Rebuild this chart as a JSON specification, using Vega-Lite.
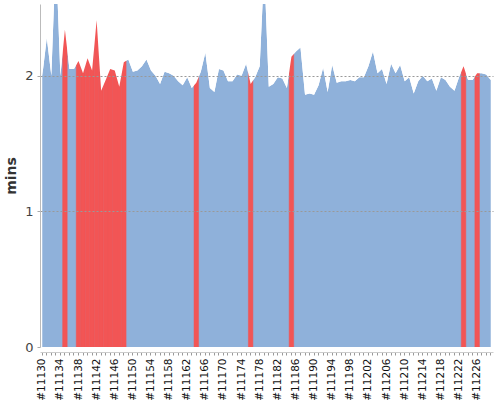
{
  "$schema": "https://vega.github.io/schema/vega-lite/v6.json",
  "description": "Build time trend, minutes per build",
  "autosize": {"type": "none"},
  "padding": {"left": 40, "top": 4, "right": 7, "bottom": 53},
  "width": 453,
  "height": 343,
  "background": "white",
  "config": {
    "view": {"stroke": null},
    "font": "DejaVu Sans"
  },
  "data": {
    "values": [
      {"build": 11130, "mins": 2.00, "result": "SUCCESS"},
      {"build": 11131, "mins": 2.28, "result": "SUCCESS"},
      {"build": 11132, "mins": 2.00, "result": "SUCCESS"},
      {"build": 11133, "mins": 2.90, "result": "SUCCESS"},
      {"build": 11134, "mins": 2.00, "result": "SUCCESS"},
      {"build": 11135, "mins": 2.34, "result": "FAILURE"},
      {"build": 11136, "mins": 2.05, "result": "SUCCESS"},
      {"build": 11137, "mins": 2.05, "result": "SUCCESS"},
      {"build": 11138, "mins": 2.11, "result": "FAILURE"},
      {"build": 11139, "mins": 2.02, "result": "FAILURE"},
      {"build": 11140, "mins": 2.13, "result": "FAILURE"},
      {"build": 11141, "mins": 2.04, "result": "FAILURE"},
      {"build": 11142, "mins": 2.41, "result": "FAILURE"},
      {"build": 11143, "mins": 1.89, "result": "FAILURE"},
      {"build": 11144, "mins": 1.97, "result": "FAILURE"},
      {"build": 11145, "mins": 2.05, "result": "FAILURE"},
      {"build": 11146, "mins": 2.04, "result": "FAILURE"},
      {"build": 11147, "mins": 1.92, "result": "FAILURE"},
      {"build": 11148, "mins": 2.10, "result": "FAILURE"},
      {"build": 11149, "mins": 2.12, "result": "SUCCESS"},
      {"build": 11150, "mins": 2.03, "result": "SUCCESS"},
      {"build": 11151, "mins": 2.04, "result": "SUCCESS"},
      {"build": 11152, "mins": 2.07, "result": "SUCCESS"},
      {"build": 11153, "mins": 2.12, "result": "SUCCESS"},
      {"build": 11154, "mins": 2.04, "result": "SUCCESS"},
      {"build": 11155, "mins": 2.00, "result": "SUCCESS"},
      {"build": 11156, "mins": 1.94, "result": "SUCCESS"},
      {"build": 11157, "mins": 2.03, "result": "SUCCESS"},
      {"build": 11158, "mins": 2.02, "result": "SUCCESS"},
      {"build": 11159, "mins": 2.00, "result": "SUCCESS"},
      {"build": 11160, "mins": 1.96, "result": "SUCCESS"},
      {"build": 11161, "mins": 1.93, "result": "SUCCESS"},
      {"build": 11162, "mins": 1.99, "result": "SUCCESS"},
      {"build": 11163, "mins": 1.91, "result": "SUCCESS"},
      {"build": 11164, "mins": 1.95, "result": "FAILURE"},
      {"build": 11165, "mins": 2.03, "result": "SUCCESS"},
      {"build": 11166, "mins": 2.17, "result": "SUCCESS"},
      {"build": 11167, "mins": 1.91, "result": "SUCCESS"},
      {"build": 11168, "mins": 1.88, "result": "SUCCESS"},
      {"build": 11169, "mins": 2.05, "result": "SUCCESS"},
      {"build": 11170, "mins": 2.04, "result": "SUCCESS"},
      {"build": 11171, "mins": 1.96, "result": "SUCCESS"},
      {"build": 11172, "mins": 1.96, "result": "SUCCESS"},
      {"build": 11173, "mins": 2.01, "result": "SUCCESS"},
      {"build": 11174, "mins": 2.00, "result": "SUCCESS"},
      {"build": 11175, "mins": 2.09, "result": "SUCCESS"},
      {"build": 11176, "mins": 1.94, "result": "FAILURE"},
      {"build": 11177, "mins": 1.99, "result": "SUCCESS"},
      {"build": 11178, "mins": 2.07, "result": "SUCCESS"},
      {"build": 11179, "mins": 2.80, "result": "SUCCESS"},
      {"build": 11180, "mins": 1.92, "result": "SUCCESS"},
      {"build": 11181, "mins": 1.94, "result": "SUCCESS"},
      {"build": 11182, "mins": 1.99, "result": "SUCCESS"},
      {"build": 11183, "mins": 1.98, "result": "SUCCESS"},
      {"build": 11184, "mins": 1.91, "result": "SUCCESS"},
      {"build": 11185, "mins": 2.14, "result": "FAILURE"},
      {"build": 11186, "mins": 2.18, "result": "SUCCESS"},
      {"build": 11187, "mins": 2.21, "result": "SUCCESS"},
      {"build": 11188, "mins": 1.86, "result": "SUCCESS"},
      {"build": 11189, "mins": 1.87, "result": "SUCCESS"},
      {"build": 11190, "mins": 1.86, "result": "SUCCESS"},
      {"build": 11191, "mins": 1.93, "result": "SUCCESS"},
      {"build": 11192, "mins": 2.06, "result": "SUCCESS"},
      {"build": 11193, "mins": 1.88, "result": "SUCCESS"},
      {"build": 11194, "mins": 2.08, "result": "SUCCESS"},
      {"build": 11195, "mins": 1.95, "result": "SUCCESS"},
      {"build": 11196, "mins": 1.96, "result": "SUCCESS"},
      {"build": 11197, "mins": 1.96, "result": "SUCCESS"},
      {"build": 11198, "mins": 1.97, "result": "SUCCESS"},
      {"build": 11199, "mins": 1.96, "result": "SUCCESS"},
      {"build": 11200, "mins": 1.99, "result": "SUCCESS"},
      {"build": 11201, "mins": 1.99, "result": "SUCCESS"},
      {"build": 11202, "mins": 2.07, "result": "SUCCESS"},
      {"build": 11203, "mins": 2.18, "result": "SUCCESS"},
      {"build": 11204, "mins": 2.02, "result": "SUCCESS"},
      {"build": 11205, "mins": 2.05, "result": "SUCCESS"},
      {"build": 11206, "mins": 1.94, "result": "SUCCESS"},
      {"build": 11207, "mins": 2.09, "result": "SUCCESS"},
      {"build": 11208, "mins": 2.02, "result": "SUCCESS"},
      {"build": 11209, "mins": 2.08, "result": "SUCCESS"},
      {"build": 11210, "mins": 1.96, "result": "SUCCESS"},
      {"build": 11211, "mins": 1.99, "result": "SUCCESS"},
      {"build": 11212, "mins": 1.87, "result": "SUCCESS"},
      {"build": 11213, "mins": 1.96, "result": "SUCCESS"},
      {"build": 11214, "mins": 2.00, "result": "SUCCESS"},
      {"build": 11215, "mins": 1.96, "result": "SUCCESS"},
      {"build": 11216, "mins": 1.98, "result": "SUCCESS"},
      {"build": 11217, "mins": 1.89, "result": "SUCCESS"},
      {"build": 11218, "mins": 1.99, "result": "SUCCESS"},
      {"build": 11219, "mins": 1.97, "result": "SUCCESS"},
      {"build": 11220, "mins": 1.92, "result": "SUCCESS"},
      {"build": 11221, "mins": 1.89, "result": "SUCCESS"},
      {"build": 11222, "mins": 1.99, "result": "SUCCESS"},
      {"build": 11223, "mins": 2.07, "result": "FAILURE"},
      {"build": 11224, "mins": 1.97, "result": "SUCCESS"},
      {"build": 11225, "mins": 1.97, "result": "SUCCESS"},
      {"build": 11226, "mins": 2.02, "result": "FAILURE"},
      {"build": 11227, "mins": 2.02, "result": "SUCCESS"},
      {"build": 11228, "mins": 2.01, "result": "SUCCESS"},
      {"build": 11229, "mins": 1.97, "result": "SUCCESS"}
    ]
  },
  "encoding": {
    "x": {
      "field": "build",
      "type": "ordinal",
      "sort": "ascending",
      "scale": {"type": "band", "paddingInner": 0, "paddingOuter": 0},
      "axis": {
        "title": null,
        "offset": 5,
        "labelExpr": "(datum.value - 11130) % 4 == 0 ? '#' + datum.value : ''",
        "labelAngle": 270,
        "labelAlign": "right",
        "labelBaseline": "middle",
        "labelFontSize": 10.5,
        "labelColor": "#111",
        "labelPadding": 3,
        "labelOverlap": false,
        "tickSize": 3,
        "tickColor": "#999",
        "domainColor": "#ccc"
      }
    }
  },
  "layer": [
    {
      "mark": {"type": "area", "color": "#8fb1da", "opacity": 1, "clip": true},
      "encoding": {
        "x": {"field": "build", "type": "ordinal", "bandPosition": 0.5},
        "y": {
          "field": "mins",
          "type": "quantitative",
          "scale": {"domain": [0, 2.53], "nice": false},
          "axis": {
            "values": [0, 1, 2],
            "format": "d",
            "title": "mins",
            "titleFontSize": 14,
            "titleFontWeight": "bold",
            "titleColor": "#333",
            "titlePadding": 6,
            "labelFontSize": 13,
            "labelColor": "#444",
            "labelPadding": 4,
            "tickSize": 3,
            "tickColor": "#aaa",
            "domainColor": "#bbb",
            "grid": true,
            "gridDash": [2, 2],
            "gridColor": "#999",
            "gridOpacity": {"condition": {"test": "datum.value == 0", "value": 0}, "value": 1},
            "zindex": 1
          }
        }
      }
    },
    {
      "transform": [{"filter": "datum.result == 'FAILURE'"}],
      "mark": {"type": "bar", "color": "#f25555", "stroke": "#f25555", "strokeWidth": 0.5, "clip": true},
      "encoding": {
        "y": {"datum": 2.53, "type": "quantitative"}
      }
    },
    {
      "mark": {"type": "area", "color": "white", "opacity": 1, "clip": true},
      "encoding": {
        "x": {"field": "build", "type": "ordinal", "bandPosition": 0.5},
        "y": {"field": "mins", "type": "quantitative"},
        "y2": {"datum": 2.53}
      }
    }
  ]
}
